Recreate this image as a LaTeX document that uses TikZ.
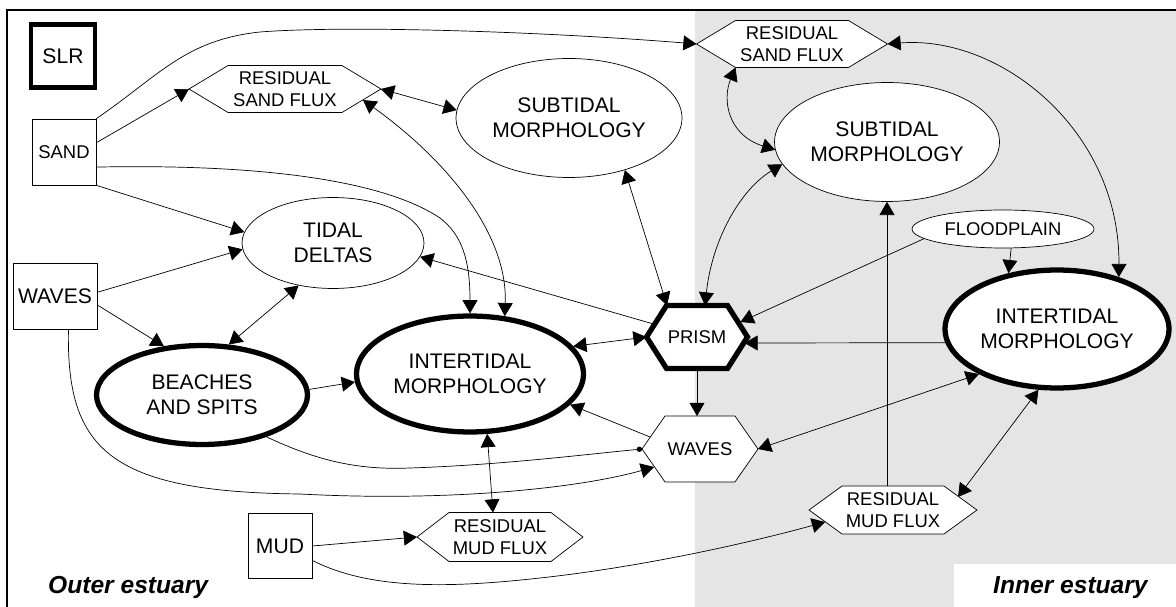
\documentclass[tikz,border=0pt]{standalone}
\usepackage{fontspec}
\setmainfont{Liberation Sans}
\usetikzlibrary{arrows.meta,shapes.geometric}
\pgfdeclarelayer{back}
\pgfsetlayers{back,main}
\newcommand\bigtxt{\fontsize{12}{14}\selectfont}
\newcommand\smalltxt{\fontsize{10.5}{12.3}\selectfont}

\begin{document}
\begin{tikzpicture}[x=0.02cm,y=-0.02cm,>={Triangle[length=7.5pt,width=8.5pt]},line width=0.9pt,
  every node/.style={font=\smalltxt,align=center},
  box/.style={draw,rectangle,inner sep=0pt},
  ell/.style={draw,ellipse,fill=white,inner sep=0pt,font=\bigtxt},
  heavy/.style={line width=3pt},
  hex/.style={rectangle,inner sep=0pt,outer sep=0pt},
  zone/.style={anchor=base west,font=\fontsize{14}{16}\selectfont\bfseries\itshape}]
  \useasboundingbox (0,0) rectangle (1176,607);
  \begin{pgfonlayer}{back}
    \fill[gray!20] (695,10) rectangle (1176,607);
    \fill[white] (954,564) rectangle (1176,607);
  \end{pgfonlayer}
  \draw[line width=1.1pt] (1176,10) -- (7,10) -- (7,607);

  \node[box,line width=2.5pt,minimum width=1.28cm,minimum height=1.26cm,font=\bigtxt] (slr) at (63,56) {SLR};
  \node[box,minimum width=1.28cm,minimum height=1.32cm] (sand) at (64,152) {SAND};
  \node[box,minimum width=1.68cm,minimum height=1.32cm,font=\bigtxt] (wavb) at (55,296) {WAVES};
  \node[box,minimum width=1.28cm,minimum height=1.3cm,font=\bigtxt] (mud) at (280,546) {MUD};

  \node[ell,minimum width=4.52cm,minimum height=2.38cm] (subo) at (569,118) {SUBTIDAL\\MORPHOLOGY};
  \node[ell,minimum width=4.5cm,minimum height=2.38cm] (subi) at (887,142) {SUBTIDAL\\MORPHOLOGY};
  \node[ell,minimum width=3.64cm,minimum height=0.76cm,font=\smalltxt] (flood) at (1003,229) {FLOODPLAIN};
  \node[ell,minimum width=3.64cm,minimum height=1.82cm] (tidal) at (333,243) {TIDAL\\DELTAS};
  \node[ell,heavy,minimum width=4.22cm,minimum height=1.98cm] (beach) at (202,395) {BEACHES\\AND SPITS};
  \node[ell,heavy,minimum width=4.54cm,minimum height=2.32cm] (into) at (470,374) {INTERTIDAL\\MORPHOLOGY};
  \node[ell,heavy,minimum width=4.48cm,minimum height=2.36cm] (inti) at (1057,329) {INTERTIDAL\\MORPHOLOGY};

  \node[hex,minimum width=3.84cm,minimum height=0.94cm] (rsfo) at (285,89) {RESIDUAL\\SAND FLUX};
  \node[hex,minimum width=3.82cm,minimum height=0.94cm] (rsfi) at (792,44) {RESIDUAL\\SAND FLUX};
  \node[hex,minimum width=2.02cm,minimum height=1.26cm] (prism) at (697,337) {PRISM};
  \node[hex,minimum width=2.32cm,minimum height=1.32cm] (wavh) at (700,449) {WAVES};
  \node[hex,minimum width=3.32cm,minimum height=0.98cm] (rmfo) at (500,537) {RESIDUAL\\MUD FLUX};
  \node[hex,minimum width=3.36cm,minimum height=0.96cm] (rmfi) at (893,510) {RESIDUAL\\MUD FLUX};

  \node[zone] (outer) at (42,593) {Outer estuary};
  \node[zone] (inner) at (987,593) {Inner estuary};

  \begin{pgfonlayer}{back}
    \foreach \n/\ins in {rsfo/39,rsfi/39,wavh/23,rmfo/32,rmfi/33}
      \draw[fill=white] (\n.west) -- ([shift={(\ins,0)}]\n.north west) -- ([shift={(-\ins,0)}]\n.north east)
        -- (\n.east) -- ([shift={(-\ins,0)}]\n.south east) -- ([shift={(\ins,0)}]\n.south west) -- cycle;
    \draw[heavy,fill=white] (prism.west) -- ([shift={(20,0)}]prism.north west) -- ([shift={(-20,0)}]prism.north east)
      -- (prism.east) -- ([shift={(-20,0)}]prism.south east) -- ([shift={(20,0)}]prism.south west) -- cycle;
  \end{pgfonlayer}

  \draw[->] (sand.north east) .. controls (160,75) and (185,40) .. (260,32) .. controls (350,25) and (550,32) .. (rsfi.west);
  \draw[->] (sand.16) -- (rsfo.west);
  \draw[->] (sand.-25) .. controls (250,164) and (380,178) .. (440,218) .. controls (462,235) and (470,260) .. (into.north);
  \draw[->] (sand.south east) -- (tidal.173);
  \draw[->] (wavb.5) -- (tidal.184);
  \draw[->] (wavb.-12) -- (beach.128);
  \draw[<->] (tidal.231) -- (beach.62);
  \draw[->] (beach.3) -- (into.184);
  \draw[->] (wavb.-68) .. controls (66,450) and (110,492) .. (300,494) .. controls (450,502) and (580,488) .. ([shift={(12,18)}]wavh.west);
  \draw[-{Circle[length=3pt]}] (beach.-33) .. controls (320,462) and (360,470) .. (410,468) .. controls (500,465) and (580,455) .. (wavh.west);
  \draw[->] ([shift={(8,-12)}]wavh.west) -- (into.-17);
  \draw[<->] (into.-74) -- ([shift={(-7,0)}]rmfo.north);
  \draw[->] (mud.east) -- (rmfo.west);
  \draw[->] (mud.-24) .. controls (370,590) and (450,588) .. (540,578) .. controls (650,566) and (760,540) .. ([shift={(16,12)}]rmfi.west);
  \draw[<->] (into.15) -- (prism.west);
  \draw[->] ([shift={(7,-13)}]prism.west) -- (tidal.-9);
  \draw[<->] (subo.-43) -- ([shift={(-30,0)}]prism.north);
  \draw[<->] (subi.192) .. controls (740,190) and (712,240) .. ([shift={(8,0)}]prism.north);
  \draw[<->] ([shift={(39,0)}]rsfi.south west) .. controls (722,100) and (728,135) .. (subi.184);
  \draw[<->] (rsfi.east) .. controls (1000,35) and (1120,130) .. (inti.40);
  \draw[<->] (rsfo.east) -- (subo.176);
  \draw[<->] ([shift={(-18,11)}]rsfo.east) .. controls (440,155) and (508,230) .. (into.59);
  \draw[->] (flood.187) -- ([shift={(-7,-15)}]prism.east);
  \draw[->] (flood.-67) -- (inti.131);
  \draw[->] (inti.187) -- ([shift={(-3,6)}]prism.east);
  \draw[->] (subi.south |- rmfi.north) -- (subi.south);
  \draw[<->] (inti.210) -- (wavh.east);
  \draw[<->] (inti.253) -- ([shift={(-19,-13)}]rmfi.east);
  \draw[->] (prism.south) -- (prism.south |- wavh.north);
\end{tikzpicture}
\end{document}
